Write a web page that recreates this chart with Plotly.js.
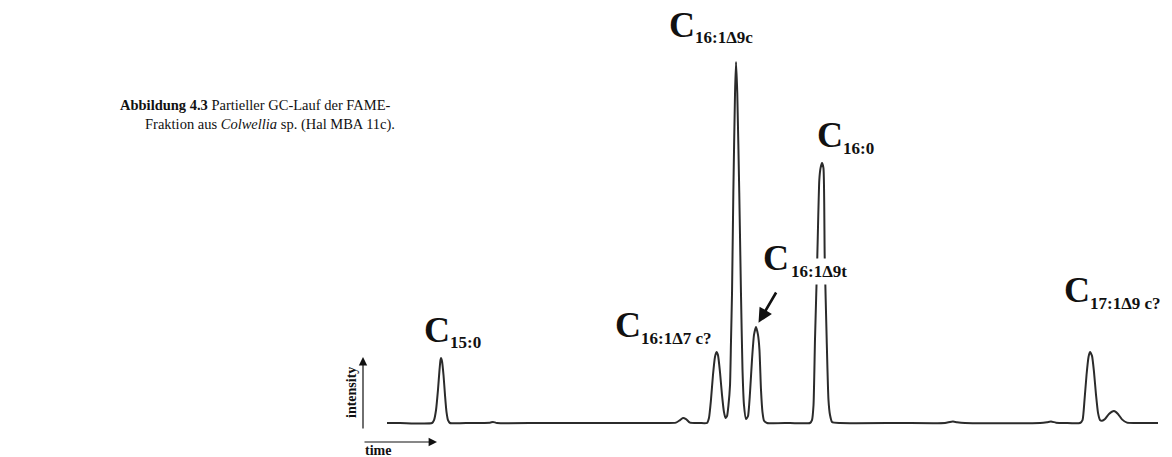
<!DOCTYPE html>
<html>
<head>
<meta charset="utf-8">
<script src="https://cdn.plot.ly/plotly-3.0.1.min.js"></script>
<style>
  html, body { margin: 0; padding: 0; background: #fff; }
  #chart { width: 1172px; height: 457px; }
</style>
</head>
<body>
<div id="chart"></div>
<script>
// Partial GC run of the FAME fraction: retention time (relative units across the shown window)
const time = [
  0, 1.69, 5.84, 6.10, 6.36, 6.61, 6.81, 6.94, 7.00, 7.13, 7.33, 7.52, 7.72, 7.91, 8.17,
  10.76, 13.36, 13.75, 14.27, 19.84, 27.63, 35.41, 37.48, 38.00, 38.39, 38.78, 39.30, 40.60,
  41.50, 41.76, 42.02, 42.28, 42.54, 42.74, 42.93, 43.19, 43.45, 43.71, 43.90,
  44.10, 44.29, 44.49, 44.62, 44.75, 44.92, 45.14, 45.27, 45.43, 45.69, 45.91, 46.11, 46.30, 46.56,
  46.82, 47.08, 47.34, 47.60, 47.86, 48.12, 48.31, 48.51, 48.70, 48.90, 49.29,
  52.27, 54.86, 55.12, 55.32, 55.51, 55.81, 56.07, 56.23, 56.42, 56.61, 56.77, 57.03, 57.26, 57.46, 57.72, 58.75,
  66.54, 72.37, 73.02, 73.41, 73.93, 74.97, 84.70, 85.60, 86.12, 86.77, 87.94,
  89.88, 90.21, 90.47, 90.73, 90.99, 91.18, 91.44, 91.70, 91.96, 92.22, 92.48, 92.74,
  93.13, 93.64, 94.29, 94.81, 95.33, 95.98, 97.02, 100
];
// detector response, % of the largest peak
const intensity = [
  0, 0, 0, 0.8, 3.6, 9.1, 14.7, 17.5, 18.0, 17.2, 13.3, 7.8, 3.0, 0.8, 0,
  0, 0.1, 0.3, 0, 0, 0, 0, 0.1, 0.8, 1.4, 1.1, 0.1, 0,
  0, 1.4, 6.4, 13.3, 18.3, 19.7, 18.8, 14.1, 7.8, 3.0, 1.4,
  1.9, 5.0, 10.5, 23.0, 36.0, 63.7, 91.4, 100, 91.4, 63.7, 36.0, 14.7, 5.0, 1.1,
  1.9, 8.3, 17.5, 24.4, 26.6, 24.4, 20.2, 9.1, 3.0, 0.6, 0,
  0, 0, 0.8, 5.0, 23.0, 46.0, 67.3, 70.6, 72.0, 70.6, 46.0, 23.0, 6.4, 2.2, 0.3, 0,
  0, 0, 0.3, 0.4, 0.2, 0, 0, 0.2, 0.4, 0.1, 0,
  0, 0.8, 6.4, 13.3, 18.3, 19.7, 18.6, 14.1, 7.8, 2.8, 0.8, 0.6,
  1.1, 2.5, 3.3, 2.5, 1.0, 0.1, 0, 0
];

// labelled fatty acid methyl esters
const peakNames = ['15:0', '16:1\u03947 c?', '16:1\u03949c', '16:1\u03949t', '16:0', '17:1\u03949 c?'];
const peakTimes = [7.00, 42.74, 45.27, 47.86, 56.42, 91.18];
const peakHeights = [18.0, 19.7, 100, 26.6, 72.0, 19.7];

const captionLines = [
  '<b>Abbildung 4.3</b> Partieller GC-Lauf der FAME-',
  'Fraktion aus <i>Colwellia</i> sp. (Hal MBA 11c).'
];
const axisLabels = { y: 'intensity', x: 'time' };

// page geometry helpers (pixel -> paper fraction)
const W = 1172, H = 457;
const px = x => x / W;
const py = y => 1 - y / H;
const serif = 'Liberation Serif, Times New Roman, serif';
const ink = '#111';

// where the big "C" of each label sits (left edge, vertical centre), in page pixels
const labelSpots = [
  [422, 329.5],
  [613, 325],
  [667, 25],
  [761, 258],
  [815, 135.5],
  [1062, 290]
];

const annotations = [];

peakNames.forEach((name, i) => {
  const [cx, cy] = labelSpots[i];
  annotations.push({
    xref: 'paper', yref: 'paper', x: px(cx), y: py(cy),
    xanchor: 'left', yanchor: 'middle', showarrow: false,
    text: '<b>C</b>', font: { family: serif, size: 36, color: ink }
  });
  const sub = {
    xref: 'paper', yref: 'paper', x: px(cx + 26), y: py(cy + 13),
    xanchor: 'left', yanchor: 'middle', showarrow: false,
    text: '<b>' + name + '</b>', font: { family: serif, size: 17, color: ink }
  };
  if (name === '16:1\u03949t') { sub.bgcolor = '#fff'; sub.borderpad = 3; }
  annotations.push(sub);
});

// pointer to the trans isomer
const ti = peakNames.indexOf('16:1\u03949t');
annotations.push({
  xref: 'x', yref: 'y', x: peakTimes[ti], y: peakHeights[ti],
  ax: 21, ay: -36, standoff: 5, showarrow: true,
  arrowhead: 2, arrowsize: 1.1, arrowwidth: 2.6, arrowcolor: ink, text: ''
});

// axis arrows with their captions
annotations.push({
  xref: 'paper', yref: 'paper', x: px(363), y: py(357), ax: 0, ay: 73,
  showarrow: true, arrowhead: 2, arrowsize: 1.4, arrowwidth: 1.2, arrowcolor: ink, text: ''
});
annotations.push({
  xref: 'paper', yref: 'paper', x: px(437), y: py(442), ax: -74, ay: 0,
  showarrow: true, arrowhead: 2, arrowsize: 1.4, arrowwidth: 1.2, arrowcolor: ink, text: ''
});
annotations.push({
  xref: 'paper', yref: 'paper', x: px(351), y: py(393), xanchor: 'center', yanchor: 'middle',
  textangle: -90, showarrow: false, text: '<b>' + axisLabels.y + '</b>',
  font: { family: serif, size: 14, color: ink }
});
annotations.push({
  xref: 'paper', yref: 'paper', x: px(378), y: py(450), xanchor: 'center', yanchor: 'middle',
  showarrow: false, text: '<b>' + axisLabels.x + '</b>',
  font: { family: serif, size: 14, color: ink }
});

// figure caption with hanging indent
annotations.push({
  xref: 'paper', yref: 'paper', x: px(118), y: py(105), xanchor: 'left', yanchor: 'middle',
  showarrow: false, text: captionLines[0], font: { family: serif, size: 14.5, color: ink }
});
annotations.push({
  xref: 'paper', yref: 'paper', x: px(143), y: py(125), xanchor: 'left', yanchor: 'middle',
  showarrow: false, text: captionLines[1], font: { family: serif, size: 14.5, color: ink }
});

const trace = {
  x: time, y: intensity, type: 'scatter', mode: 'lines',
  line: { color: '#2b2b2b', width: 2, shape: 'spline', smoothing: 0.5 },
  hoverinfo: 'skip'
};

const layout = {
  width: W, height: H,
  margin: { l: 0, r: 0, t: 0, b: 0 },
  paper_bgcolor: '#fff', plot_bgcolor: '#fff',
  showlegend: false,
  xaxis: { visible: false, range: [0, 100], domain: [387 / W, 1158 / W], fixedrange: true },
  yaxis: { visible: false, range: [-2, 102], domain: [(H - 430.22) / H, (H - 54.78) / H], fixedrange: true },
  annotations: annotations
};

Plotly.newPlot('chart', [trace], layout, { staticPlot: true, displayModeBar: false });
</script>
</body>
</html>
